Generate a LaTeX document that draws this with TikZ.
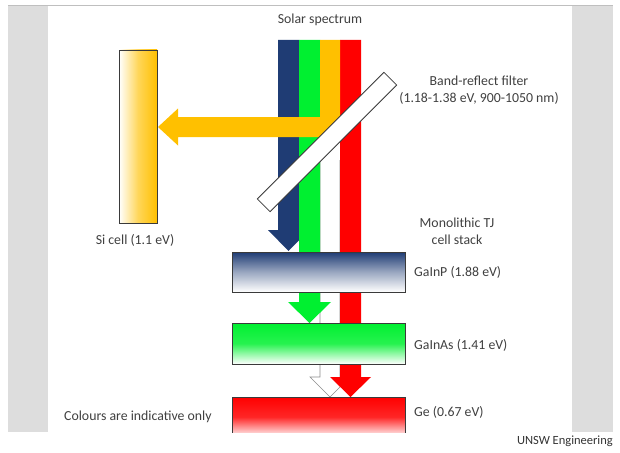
\documentclass[tikz,border=0pt]{standalone}
\usepackage{fontspec}
\setmainfont{Carlito}
\definecolor{navyc}{HTML}{1F3C74}
\definecolor{greenc}{HTML}{00F030}
\definecolor{orgc}{HTML}{FFC000}
\definecolor{redc}{HTML}{FF0000}
\definecolor{txtc}{HTML}{404040}
\definecolor{panelc}{HTML}{DDDDDD}
\definecolor{edgec}{HTML}{3A3A3A}
\begin{document}
\begin{tikzpicture}[x=1pt,y=-1pt,
  lbl/.style={font=\fontsize{13.8}{17.5}\selectfont, text=txtc, inner sep=0pt},
  cellbox/.style={draw=edgec, line width=0.8pt},
  band/.style={draw=none}]
\useasboundingbox (0,0) rectangle (620,452);
\fill[white] (0,0) rectangle (620,452);
% frame panels
\fill[panelc] (8,6) rectangle (48,432);
\fill[panelc] (572,6) rectangle (613,432);
\draw[black!25, line width=1pt] (8,6) -- (613,6);
% Si cell
\shade[left color=white, right color=orgc, middle color=orgc!65!white] (119,50) rectangle (157,223);
\draw[cellbox] (119,50) rectangle (157,223);
% white (removed) arrow
\filldraw[fill=white, draw=black!45, line width=0.6pt] (320,160) -- (320,377) -- (310,377) -- (330,397) -- (350,377) -- (340,377) -- (340,160);
% blue arrow
\fill[navyc] (278,40) -- (278,230) -- (268,230) -- (288.5,251) -- (309,230) -- (299,230) -- (299,40) -- cycle;
% green arrow
\fill[greenc] (299,40) -- (299,302) -- (288,302) -- (309.5,323) -- (331,302) -- (320,302) -- (320,40) -- cycle;
% red arrow
\fill[redc] (340,40) -- (340,377) -- (330,377) -- (350.5,397) -- (371,377) -- (361,377) -- (361,40) -- cycle;
% orange reflected arrow
\fill[orgc] (320,40) -- (340,40) -- (340,137) -- (178,137) -- (178,145.5) -- (158,127) -- (178,108.5) -- (178,117) -- (320,117) -- cycle;
% filter
\node[draw=edgec, line width=0.8pt, fill=white, minimum width=179pt, minimum height=18pt, inner sep=0pt, rotate=45] (filter) at (327,142) {};
% cell stack
\shade[top color=navyc, bottom color=white, middle color=navyc!45!white] (232,252) rectangle (405,292);
\draw[cellbox] (232,252) rectangle (405,292);
\shade[top color=greenc, bottom color=white, middle color=greenc!85!white] (232,323) rectangle (405,364);
\draw[cellbox] (232,323) rectangle (405,364);
\shade[top color=redc, bottom color=white, middle color=redc!85!white] (232,397) rectangle (405,437);
\fill[white] (48,432.5) rectangle (572,452);
\draw[cellbox] (232,432.5) -- (232,397) -- (405,397) -- (405,432.5);
% labels
\node[lbl] (solar) at (320,20) {Solar spectrum};
\node[lbl, align=center] (filterlbl) at (479,90) {Band-reflect filter\\(1.18-1.38 eV, 900-1050 nm)};
\node[lbl, align=center] (stack) at (457,231.5) {Monolithic TJ\\cell stack};
\node[lbl] (si) at (135,240) {Si cell (1.1 eV)};
\node[lbl, anchor=west] (gainp) at (414,272) {GaInP (1.88 eV)};
\node[lbl, anchor=west] (gainas) at (414,345) {GaInAs (1.41 eV)};
\node[lbl, anchor=west] (ge) at (414,412) {Ge (0.67 eV)};
\node[lbl, anchor=west] (note) at (64,417) {Colours are indicative only};
\node[lbl, anchor=east, text=black!80, font=\fontsize{12.5}{15}\selectfont] (credit) at (613,441) {UNSW Engineering};
\end{tikzpicture}
\end{document}
